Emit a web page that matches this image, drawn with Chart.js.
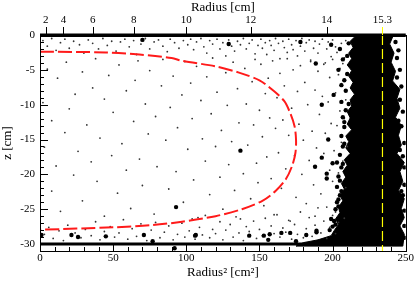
<!DOCTYPE html>
<html>
<head>
<meta charset="utf-8">
<script src="https://cdn.jsdelivr.net/npm/chart.js@4.4.0/dist/chart.umd.min.js"></script>
<style>
  html, body { margin: 0; padding: 0; background: #fff; }
</style>
</head>
<body>
<canvas id="chart" width="415" height="281"></canvas>
<script>
// Axis ranges and ticks
const xMin = 0, xMax = 250;
const zMin = -31, zMax = 0;
const xMajorTicks = [0, 50, 100, 150, 200, 250];
const zMajorTicks = [0, -5, -10, -15, -20, -25, -30];
const radiusTickLabels = ['2', '4', '6', '8', '10', '12', '14', '15.3'];
const radiusTickValues = [4, 16, 36, 64, 100, 144, 196, 234.09];
const cutR2 = 234.09;

// Red dashed boundary (Radius^2, z)
const curveR2 = [0, 45, 68, 90, 97, 120, 136, 150, 159, 167, 171, 174, 175, 174.6, 172.3, 168, 161, 152, 138, 120, 97, 76, 50, 0];
const curveZ = [-2.4, -2.5, -2.8, -3.3, -3.7, -4.5, -5.4, -6.5, -7.9, -9.5, -11.2, -13.1, -15, -16.9, -18.8, -20.7, -22.4, -23.8, -25, -26, -26.8, -27.3, -27.6, -27.95];

// Dense outer cloud outline (Radius^2, z)
const denseOutline = [
  [215,-0.3],[212,-0.9],[214,-1.8],[211,-2.6],[213,-3.4],[210,-4.3],[213,-5.1],[211,-5.9],[214,-6.8],[212,-7.6],
  [215,-8.5],[212,-9.3],[213,-10.2],[210,-11.0],[212,-11.9],[210,-12.8],[213,-13.6],[209,-14.5],[211,-15.3],[209,-16.2],
  [212,-17.0],[208,-17.9],[210,-18.7],[207,-19.6],[209,-20.4],[206,-21.3],[208,-22.1],[205,-23.0],[207,-23.8],[204,-24.7],
  [205,-25.5],[202,-26.4],[204,-27.2],[201,-28.1],[199,-28.8],[190,-29.4],[180,-29.8],[175,-30.3],
  [248,-30.3],[249,-28.6],[246,-27.4],[249,-26.2],[247,-24.9],[249,-23.5],[245,-22.3],[248,-21.0],[246,-19.6],[249,-18.3],
  [244,-17.0],[247,-15.8],[245,-14.4],[247,-13.0],[243,-11.8],[246,-10.5],[244,-9.1],[246,-7.8],[241,-6.6],[243,-5.2],
  [240,-3.9],[242,-2.6],[239,-1.3],[241,-0.3],[215,-0.3]
];

// Dense rows of hits at the top and bottom faces
const topBand = [[0,-0.05],[250,-0.05]];
const bottomBand = [[0,-30],[200,-30]];

// Large single hits
const bigDots = [
  [70,-0.7],[129,-1.3],[178,-1.0],[137,-16.6],[93,-24.7],[106,-28.8],[143,-28.8],[153,-28.8],[157,-28.6],[156,-29.4],
  [171,-28.4],[77,-29.6],[175,-29.6],[1,-28.7],[21.5,-28.7],[26,-29.0],[45,-28.9],[71,-28.7],[92,-30.6],[106.5,-28.7],
  [165,-28.4],[189,-28.3],[182,-28.7],[192.6,-10],[197,-15],[192.6,-17.6],[188,-18.9],[196,-20.6],[200,-18.4],[203,-18.3],
  [188.5,-4.1],[199,-1.4],[200.7,-8.6],[204,-5],[206,-9.6],[196,-19.9],[199,-26.4],[189,-28.1],[204,-23.6],[206,-22.4]
];

// Large hits along the edges of the dense cloud
const edgeDots = [
  [205,-2],[207,-3.5],[208,-6.5],[206,-7.2],[209,-10.8],[207,-11.8],[208,-13.2],[206,-14.5],[207,-16.0],[205,-17.2],
  [206,-19.0],[204,-20.3],[203,-21.8],[204,-24.6],[202,-25.0],[201,-26.7],[200,-27.5],[198,-28.0],[210,-3],[209,-8],
  [208,-12.5],[207,-18.5],[205,-23],[202,-27.2],[211,-1.2],[210,-5.6],[211,-9.9],[208,-15.6],[205,-20.9],[203,-24.0],
  [243,-1],[244,-3.3],[246,-5],[247,-7.4],[246,-9.3],[248,-11],[247,-13.1],[249,-15.5],[248,-17.4],[249,-19],
  [249,-21.5],[248,-23],[249,-25.2],[249,-27.4],[249,-29.1],[245,-2.2],[244,-6.1],[245,-12.3],[246,-16.5],[247,-22.4]
];

// Small hits just below the top face
const topStripDots = [
  [2,-0.8],[5,-1.6],[8,-0.5],[11,-2.2],[14,-1.1],[17,-0.6],[20,-1.9],[23,-0.9],[27,-1.4],[30,-2.6],[33,-0.7],[36,-1.2],
  [40,-2.0],[43,-0.5],[46,-1.5],[49,-0.9],[52,-2.3],[55,-1.0],[58,-0.6],[61,-1.7],[64,-0.8],[66,-2.8],[69,-1.3],[72,-0.5],
  [75,-2.0],[78,-1.0],[81,-0.7],[84,-1.6],[87,-2.4],[89,-0.6],[92,-1.1],[95,-1.9],[98,-0.8],[101,-1.4],[103,-0.6],[105,-2.1],
  [107,-1.0],[110,-0.5],[112,-1.7],[114,-2.6],[116,-0.8],[118,-1.3],[121,-0.6],[123,-2.0],[125,-1.1],[127,-3.0],[129,-0.7],
  [131,-1.6],[133,-2.3],[135,-0.9],[137,-1.4],[139,-0.5],[141,-2.0],[143,-1.2],[145,-0.7],[147,-2.7],[149,-1.5],[151,-0.6],
  [152,-1.9],[154,-1.1],[155,-2.8],[157,-0.8],[158,-1.5],[160,-2.2],[161,-0.5],[163,-1.2],[164,-3.4],[166,-0.9],[167,-1.8],
  [169,-2.5],[170,-0.6],[172,-1.4],[173,-2.1],[175,-0.8],[176,-3.0],[178,-1.6],[179,-0.5],[181,-2.3],[182,-1.1],[184,-0.7],
  [185,-3.8],[187,-1.9],[188,-0.9],[190,-2.6],[191,-1.3],[193,-0.6],[194,-4.2],[196,-2.0],[197,-1.0],[199,-3.1],[200,-0.7],
  [202,-1.7],[203,-2.5],[205,-4.8],[206,-1.2],[208,-3.3],[209,-0.8]
];

// Small hits spread through the volume
const midDots = [
  [2,-9.7],[3,-16.1],[5,-4.9],[8,-22.4],[8,-12.3],[11,-18.8],[12,-6.2],[14,-25.3],[17,-14.0],[18,-3.9],[20,-10.6],[23,-20.1],
  [24,-8.5],[26,-16.7],[29,-5.3],[29,-23.8],[32,-12.9],[35,-18.2],[36,-7.6],[38,-3.4],[39,-21.0],[41,-14.8],[44,-9.2],
  [44,-26.0],[47,-5.8],[49,-17.3],[50,-11.1],[53,-22.7],[54,-4.3],[56,-15.6],[59,-8.0],[59,-19.4],[62,-24.9],[64,-12.4],
  [65,-6.5],[67,-3.7],[68,-17.8],[70,-21.6],[72,-9.9],[74,-14.2],[75,-5.1],[78,-25.7],[79,-11.7],[80,-18.9],[83,-7.3],
  [84,-3.5],[86,-15.1],[88,-22.1],[89,-10.4],[91,-5.9],[93,-19.6],[94,-13.3],[97,-8.6],[98,-24.0],[99,-3.8],[101,-16.4],
  [103,-6.9],[104,-12.0],[105,-20.8],[107,-4.5],[108,-26.2],[110,-9.4],[111,-14.9],[113,-18.1],[114,-6.0],[116,-22.9],
  [117,-11.3],[118,-3.3],[120,-16.0],[121,-8.2],[123,-20.4],[124,-13.7],[125,-25.0],[127,-5.4],[128,-10.1],[129,-18.6],
  [131,-15.3],[132,-3.9],[133,-22.3],[135,-7.7],[136,-12.6],[137,-26.4],[139,-19.9],[140,-4.8],[141,-9.9],[142,-15.8],
  [144,-23.5],[145,-6.7],[146,-12.9],[147,-3.5],[148,-18.4],[149,-21.2],[150,-10.8],[151,-4.2],[152,-14.6],[153,-24.5],
  [154,-8.4],[155,-17.5],[156,-6.2],[157,-11.9],[158,-20.6],[159,-3.7],[160,-25.8],[161,-13.4],[162,-9.0],[163,-16.9],
  [164,-5.5],[165,-22.0],[166,-12.2],[167,-7.3],[168,-19.2],[169,-3.4],[170,-14.4],[171,-26.7],[172,-10.5],[173,-5.0],
  [174,-17.3],[175,-23.3],[176,-8.1],[177,-12.8],[178,-4.4],[179,-20.0],[180,-15.1],[181,-6.8],[182,-24.2],[183,-10.0],
  [184,-18.0],[185,-3.6],[186,-13.8],[187,-21.5],[188,-7.9],[188,-26.0],[189,-16.2],[190,-5.2],[191,-11.4],[192,-22.8],
  [193,-8.8],[194,-17.0],[195,-4.0],[195,-14.1],[196,-24.7],[197,-9.6],[198,-19.4],[198,-6.1],[199,-12.7],[200,-21.0],
  [200,-3.5],[201,-16.6],[202,-8.3],[202,-25.4],[203,-13.0],[204,-5.7],[204,-19.8],[205,-10.9],[205,-23.0],[206,-15.4],
  [206,-7.0],[207,-18.1],[207,-4.1],[208,-12.0],[208,-26.3],[209,-21.9],[209,-9.3],[210,-16.0]
];

// Small hits just above the bottom face
const bottomStripDots = [
  [3,-28.6],[6,-27.6],[9,-29.2],[13,-28.1],[16,-29.5],[19,-27.3],[24,-28.4],[28,-29.1],[31,-27.9],[35,-28.8],[38,-26.8],
  [41,-29.4],[44,-28.2],[48,-27.5],[51,-29.0],[54,-28.4],[57,-26.5],[60,-29.3],[63,-27.8],[66,-28.9],[69,-27.1],[73,-29.5],
  [76,-28.0],[79,-26.9],[82,-29.1],[85,-28.3],[88,-27.4],[91,-29.4],[94,-28.6],[97,-27.0],[99,-29.0],[102,-28.1],[104,-26.4],
  [106,-29.3],[109,-27.6],[111,-28.7],[113,-25.9],[116,-29.1],[118,-27.9],[120,-28.5],[123,-26.8],[125,-29.4],[127,-28.0],
  [130,-27.2],[132,-29.0],[134,-26.1],[136,-28.4],[139,-29.5],[141,-27.5],[143,-28.2],[146,-26.7],[148,-29.2],[150,-27.9],
  [152,-28.8],[154,-26.3],[156,-29.4],[158,-27.4],[160,-28.5],[162,-25.8],[164,-29.0],[166,-27.7],[168,-28.3],[170,-26.6],
  [172,-29.3],[174,-27.2],[176,-28.6],[178,-25.4],[180,-29.1],[182,-27.8],[184,-26.2],[186,-28.9],[188,-27.3],[190,-24.8],
  [192,-28.4],[194,-26.7],[196,-29.2],[198,-27.6],[200,-25.9],[202,-28.5],[204,-26.9]
];

const toXY = (pts) => pts.map(([x, z]) => ({ x, y: z }));
const serif = 'Liberation Serif, Times New Roman, serif';

// Frame and tick marks (inside ticks on left/bottom, outside ticks on top)
const frameTicks = {
    id: 'frameTicks',
    afterDatasetsDraw(chart) {
        const { ctx, chartArea: a, scales } = chart;
        const xs = scales.x, ys = scales.y;
        ctx.save();
        ctx.lineWidth = 1;
        ctx.strokeStyle = '#000';
        ctx.beginPath();
        for (let v = xMin; v <= xMax; v += 10) {
            const px = Math.round(xs.getPixelForValue(v)) + 0.5;
            const len = v % 50 === 0 ? 8 : 4;
            ctx.moveTo(px, a.bottom);
            ctx.lineTo(px, a.bottom - len);
        }
        for (let v = zMax; v >= zMin; v -= 1) {
            const py = Math.round(ys.getPixelForValue(v)) + 0.5;
            const len = v % 5 === 0 ? 8 : 4;
            ctx.moveTo(a.left, py);
            ctx.lineTo(a.left + len, py);
        }
        radiusTickValues.forEach((v) => {
            if (v === cutR2) return;
            const px = Math.round(xs.getPixelForValue(v)) + 0.5;
            ctx.moveTo(px, a.top);
            ctx.lineTo(px, a.top - 8);
        });
        ctx.stroke();
        ctx.strokeRect(Math.round(a.left) + 0.5, Math.round(a.top) + 0.5,
            Math.round(a.right - a.left), Math.round(a.bottom - a.top));
        // yellow tick for the 15.3 cm cut
        const cx = Math.round(xs.getPixelForValue(cutR2)) + 0.5;
        ctx.strokeStyle = '#ffff00';
        ctx.beginPath();
        ctx.moveTo(cx, a.top);
        ctx.lineTo(cx, a.top - 8);
        ctx.stroke();
        ctx.restore();
    }
};

const dotSet = (pts, r, color) => ({
    data: toXY(pts),
    pointRadius: r,
    pointBackgroundColor: color,
    pointBorderWidth: 0,
    showLine: false,
});

new Chart(document.getElementById('chart'), {
    type: 'scatter',
    data: {
        datasets: [
            {
                data: curveR2.map((x, i) => ({ x, y: curveZ[i] })),
                showLine: true,
                borderColor: '#ff1a1a',
                borderWidth: 2,
                borderDash: [14, 4],
                tension: 0.3,
                pointRadius: 0,
                fill: false,
            },
            dotSet(edgeDots, 2.2, '#000'),
            {
                data: [{ x: cutR2, y: zMax }, { x: cutR2, y: zMin }],
                showLine: true,
                borderColor: '#ffff00',
                borderWidth: 1.2,
                borderDash: [10, 4],
                pointRadius: 0,
            },
            dotSet(bigDots, 2.2, '#000'),
            dotSet(topStripDots, 0.9, '#333'),
            dotSet(midDots, 0.9, '#333'),
            dotSet(bottomStripDots, 0.9, '#333'),
            {
                data: toXY(topBand),
                showLine: true,
                borderColor: '#000',
                borderWidth: 3.5,
                pointRadius: 0,
                clip: false,
            },
            {
                data: toXY(bottomBand),
                showLine: true,
                borderColor: '#000',
                borderWidth: 3,
                pointRadius: 0,
            },
            {
                data: toXY(denseOutline),
                showLine: true,
                fill: 'shape',
                backgroundColor: '#000',
                borderColor: '#000',
                borderWidth: 1,
                pointRadius: 0,
                tension: 0,
            },
        ],
    },
    options: {
        responsive: false,
        devicePixelRatio: 1,
        animation: false,
        layout: { padding: { top: 0, right: 8, bottom: 0, left: 0 } },
        plugins: {
            legend: { display: false },
            tooltip: { enabled: false },
        },
        scales: {
            x: {
                type: 'linear',
                position: 'bottom',
                min: xMin,
                max: xMax,
                afterFit: (s) => { s.height = 30; },
                afterBuildTicks: (s) => { s.ticks = xMajorTicks.map((v) => ({ value: v })); },
                grid: { display: false, drawTicks: false },
                border: { display: false },
                ticks: {
                    autoSkip: false, maxRotation: 0, padding: 1, color: '#000',
                    font: { family: serif, size: 11 },
                    callback: (v) => String(v),
                },
                title: {
                    display: true, text: 'Radius² [cm²]', color: '#000',
                    font: { family: serif, size: 13 },
                    padding: { top: 0, bottom: 1 },
                },
            },
            x2: {
                type: 'linear',
                position: 'top',
                min: xMin,
                max: xMax,
                afterFit: (s) => { s.height = 35; },
                afterBuildTicks: (s) => { s.ticks = radiusTickValues.map((v) => ({ value: v })); },
                grid: { display: false, drawTicks: false },
                border: { display: false },
                ticks: {
                    autoSkip: false, maxRotation: 0, padding: 8, color: '#000',
                    font: { family: serif, size: 11 },
                    callback: (v, i) => radiusTickLabels[i],
                },
                title: {
                    display: true, text: 'Radius [cm]', color: '#000',
                    font: { family: serif, size: 13 },
                    padding: { top: 0, bottom: 0 },
                },
            },
            y: {
                type: 'linear',
                min: zMin,
                max: zMax,
                afterFit: (s) => { s.width = 40; },
                afterBuildTicks: (s) => { s.ticks = zMajorTicks.map((v) => ({ value: v })); },
                grid: { display: false, drawTicks: false },
                border: { display: false },
                ticks: {
                    autoSkip: false, padding: 5, color: '#000',
                    font: { family: serif, size: 11 },
                    callback: (v) => String(v),
                },
                title: {
                    display: true, text: 'z [cm]', color: '#000',
                    font: { family: serif, size: 13 },
                    padding: { top: 0, bottom: 0 },
                },
            },
        },
    },
    plugins: [frameTicks],
});
</script>
</body>
</html>
